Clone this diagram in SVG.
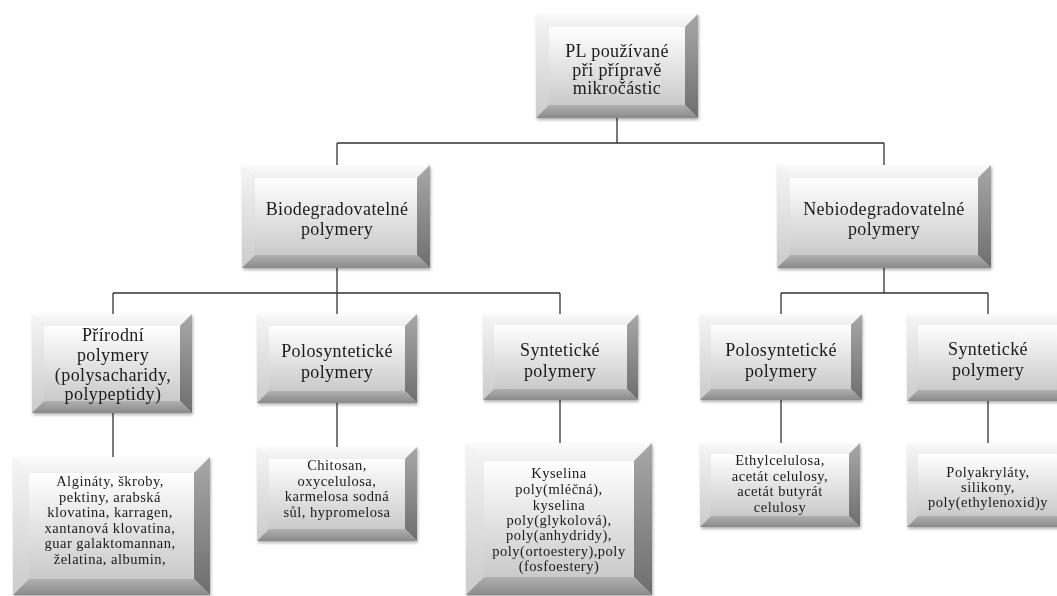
<svg xmlns="http://www.w3.org/2000/svg" width="1057" height="596" viewBox="0 0 1057 596">
<defs>
<linearGradient id="gFace" x1="0" y1="0" x2="0" y2="1"><stop offset="0" stop-color="#ffffff"/><stop offset="1" stop-color="#cacaca"/></linearGradient>
<linearGradient id="gTop" x1="0" y1="0" x2="0" y2="1"><stop offset="0" stop-color="#fbfbfb"/><stop offset="1" stop-color="#efefef"/></linearGradient>
<linearGradient id="gLeft" x1="0" y1="0" x2="0" y2="1"><stop offset="0" stop-color="#f6f6f6"/><stop offset="1" stop-color="#cbcbcb"/></linearGradient>
<linearGradient id="gRight" x1="0" y1="0" x2="0" y2="1"><stop offset="0" stop-color="#a8a8a8"/><stop offset="1" stop-color="#6e6e6e"/></linearGradient>
<linearGradient id="gBottom" x1="0" y1="0" x2="0" y2="1"><stop offset="0" stop-color="#b0b0b0"/><stop offset="1" stop-color="#8a8a8a"/></linearGradient>
<filter id="sh" x="-10%" y="-10%" width="125%" height="130%"><feDropShadow dx="1" dy="2" stdDeviation="1.5" flood-color="#000" flood-opacity="0.3"/></filter>
</defs>
<style>
.face{fill:url(#gFace)}
.bt{fill:url(#gTop)}
.bl{fill:url(#gLeft)}
.br{fill:url(#gRight)}
.bb{fill:url(#gBottom)}
.node{filter:url(#sh)}
.t1{font-family:"Liberation Serif","Times New Roman",serif;font-size:18px;letter-spacing:0.4px;fill:#1a1a1a;text-anchor:middle}
.t2{font-family:"Liberation Serif","Times New Roman",serif;font-size:14.5px;letter-spacing:0.5px;fill:#1a1a1a;text-anchor:middle}
.conn{fill:none;stroke:#333333;stroke-width:1.3}
</style>
<rect width="1057" height="596" fill="#ffffff"/>
<g id="connectors" class="conn">
<path d="M617,118V143M337,143H884M337,143V165M884,143V165"/>
<path d="M337,268V293M113,293H560M113,293V314M337,293V314M560,293V314"/>
<path d="M884,268V293M781,293H988M781,293V314M988,293V314"/>
<path d="M113,413V457M337,403V447M560,400V443M781,400V443M988,401V443"/>
</g>
<g id="n-root" class="node" transform="translate(536,14)">
<rect class="face" x="13" y="13" width="136" height="78"/>
<polygon class="bt" points="0,0 162,0 149,13 13,13"/>
<polygon class="bl" points="0,0 13,13 13,91 0,104"/>
<polygon class="br" points="162,0 162,104 149,91 149,13"/>
<polygon class="bb" points="0,104 13,91 149,91 162,104"/>
<text class="t1" x="81" y="43">PL používané</text>
<text class="t1" x="81" y="61.5">při přípravě</text>
<text class="t1" x="81" y="80">mikročástic</text>
</g>
<g id="n-bio" class="node" transform="translate(242,165)">
<rect class="face" x="13" y="13" width="162" height="77"/>
<polygon class="bt" points="0,0 188,0 175,13 13,13"/>
<polygon class="bl" points="0,0 13,13 13,90 0,103"/>
<polygon class="br" points="188,0 188,103 175,90 175,13"/>
<polygon class="bb" points="0,103 13,90 175,90 188,103"/>
<text class="t1" x="95" y="50">Biodegradovatelné</text>
<text class="t1" x="95" y="70">polymery</text>
</g>
<g id="n-nebio" class="node" transform="translate(777,165)">
<rect class="face" x="13" y="13" width="188" height="77"/>
<polygon class="bt" points="0,0 214,0 201,13 13,13"/>
<polygon class="bl" points="0,0 13,13 13,90 0,103"/>
<polygon class="br" points="214,0 214,103 201,90 201,13"/>
<polygon class="bb" points="0,103 13,90 201,90 214,103"/>
<text class="t1" x="107" y="50">Nebiodegradovatelné</text>
<text class="t1" x="107" y="70">polymery</text>
</g>
<g id="n-prirodni" class="node" transform="translate(32,314)">
<rect class="face" x="12" y="12" width="136" height="75"/>
<polygon class="bt" points="0,0 160,0 148,12 12,12"/>
<polygon class="bl" points="0,0 12,12 12,87 0,99"/>
<polygon class="br" points="160,0 160,99 148,87 148,12"/>
<polygon class="bb" points="0,99 12,87 148,87 160,99"/>
<text class="t1" x="81" y="27">Přírodní</text>
<text class="t1" x="81" y="47">polymery</text>
<text class="t1" x="81" y="67">(polysacharidy,</text>
<text class="t1" x="81" y="86">polypeptidy)</text>
</g>
<g id="n-polosyn-bio" class="node" transform="translate(257,314)">
<rect class="face" x="12" y="12" width="136" height="65"/>
<polygon class="bt" points="0,0 160,0 148,12 12,12"/>
<polygon class="bl" points="0,0 12,12 12,77 0,89"/>
<polygon class="br" points="160,0 160,89 148,77 148,12"/>
<polygon class="bb" points="0,89 12,77 148,77 160,89"/>
<text class="t1" x="80" y="43">Polosyntetické</text>
<text class="t1" x="80" y="64">polymery</text>
</g>
<g id="n-syn-bio" class="node" transform="translate(483,314)">
<rect class="face" x="11" y="11" width="133" height="64"/>
<polygon class="bt" points="0,0 155,0 144,11 11,11"/>
<polygon class="bl" points="0,0 11,11 11,75 0,86"/>
<polygon class="br" points="155,0 155,86 144,75 144,11"/>
<polygon class="bb" points="0,86 11,75 144,75 155,86"/>
<text class="t1" x="77" y="42">Syntetické</text>
<text class="t1" x="77" y="63">polymery</text>
</g>
<g id="n-polosyn-nebio" class="node" transform="translate(700,314)">
<rect class="face" x="11" y="11" width="140" height="64"/>
<polygon class="bt" points="0,0 162,0 151,11 11,11"/>
<polygon class="bl" points="0,0 11,11 11,75 0,86"/>
<polygon class="br" points="162,0 162,86 151,75 151,11"/>
<polygon class="bb" points="0,86 11,75 151,75 162,86"/>
<text class="t1" x="81" y="42">Polosyntetické</text>
<text class="t1" x="81" y="63">polymery</text>
</g>
<g id="n-syn-nebio" class="node" transform="translate(907,314)">
<rect class="face" x="11" y="11" width="140" height="65"/>
<polygon class="bt" points="0,0 162,0 151,11 11,11"/>
<polygon class="bl" points="0,0 11,11 11,76 0,87"/>
<polygon class="br" points="162,0 162,87 151,76 151,11"/>
<polygon class="bb" points="0,87 11,76 151,76 162,87"/>
<text class="t1" x="81" y="41">Syntetické</text>
<text class="t1" x="81" y="62">polymery</text>
</g>
<g id="n-alginaty" class="node" transform="translate(13,457)">
<rect class="face" x="16" y="16" width="165" height="106"/>
<polygon class="bt" points="0,0 197,0 181,16 16,16"/>
<polygon class="bl" points="0,0 16,16 16,122 0,138"/>
<polygon class="br" points="197,0 197,138 181,122 181,16"/>
<polygon class="bb" points="0,138 16,122 181,122 197,138"/>
<text class="t2" x="97" y="29">Algináty, škroby,</text>
<text class="t2" x="97" y="44.5">pektiny,  arabská</text>
<text class="t2" x="97" y="60">klovatina, karragen,</text>
<text class="t2" x="97" y="75.5">xantanová klovatina,</text>
<text class="t2" x="97" y="91">guar galaktomannan,</text>
<text class="t2" x="97" y="106.5">želatina, albumin,</text>
</g>
<g id="n-chitosan" class="node" transform="translate(257,447)">
<rect class="face" x="12" y="12" width="136" height="70"/>
<polygon class="bt" points="0,0 160,0 148,12 12,12"/>
<polygon class="bl" points="0,0 12,12 12,82 0,94"/>
<polygon class="br" points="160,0 160,94 148,82 148,12"/>
<polygon class="bb" points="0,94 12,82 148,82 160,94"/>
<text class="t2" x="80" y="23">Chitosan,</text>
<text class="t2" x="80" y="38.7">oxycelulosa,</text>
<text class="t2" x="80" y="54.4">karmelosa sodná</text>
<text class="t2" x="80" y="70">sůl, hypromelosa</text>
</g>
<g id="n-kyselina" class="node" transform="translate(466,443)">
<rect class="face" x="18" y="18" width="150" height="116"/>
<polygon class="bt" points="0,0 186,0 168,18 18,18"/>
<polygon class="bl" points="0,0 18,18 18,134 0,152"/>
<polygon class="br" points="186,0 186,152 168,134 168,18"/>
<polygon class="bb" points="0,152 18,134 168,134 186,152"/>
<text class="t2" x="93" y="35">Kyselina</text>
<text class="t2" x="93" y="51">poly(mléčná),</text>
<text class="t2" x="93" y="66.5">kyselina</text>
<text class="t2" x="93" y="82">poly(glykolová),</text>
<text class="t2" x="93" y="97">poly(anhydridy),</text>
<text class="t2" x="93" y="112.5">poly(ortoestery),poly</text>
<text class="t2" x="93" y="128">(fosfoestery)</text>
</g>
<g id="n-ethyl" class="node" transform="translate(700,443)">
<rect class="face" x="11" y="11" width="138" height="62"/>
<polygon class="bt" points="0,0 160,0 149,11 11,11"/>
<polygon class="bl" points="0,0 11,11 11,73 0,84"/>
<polygon class="br" points="160,0 160,84 149,73 149,11"/>
<polygon class="bb" points="0,84 11,73 149,73 160,84"/>
<text class="t2" x="80" y="22">Ethylcelulosa,</text>
<text class="t2" x="80" y="37.5">acetát celulosy,</text>
<text class="t2" x="80" y="53">acetát butyrát</text>
<text class="t2" x="80" y="68.5">celulosy</text>
</g>
<g id="n-polyakryl" class="node" transform="translate(907,443)">
<rect class="face" x="11" y="11" width="140" height="62"/>
<polygon class="bt" points="0,0 162,0 151,11 11,11"/>
<polygon class="bl" points="0,0 11,11 11,73 0,84"/>
<polygon class="br" points="162,0 162,84 151,73 151,11"/>
<polygon class="bb" points="0,84 11,73 151,73 162,84"/>
<text class="t2" x="81" y="34">Polyakryláty,</text>
<text class="t2" x="81" y="49">silikony,</text>
<text class="t2" x="81" y="64">poly(ethylenoxid)y</text>
</g>
</svg>
